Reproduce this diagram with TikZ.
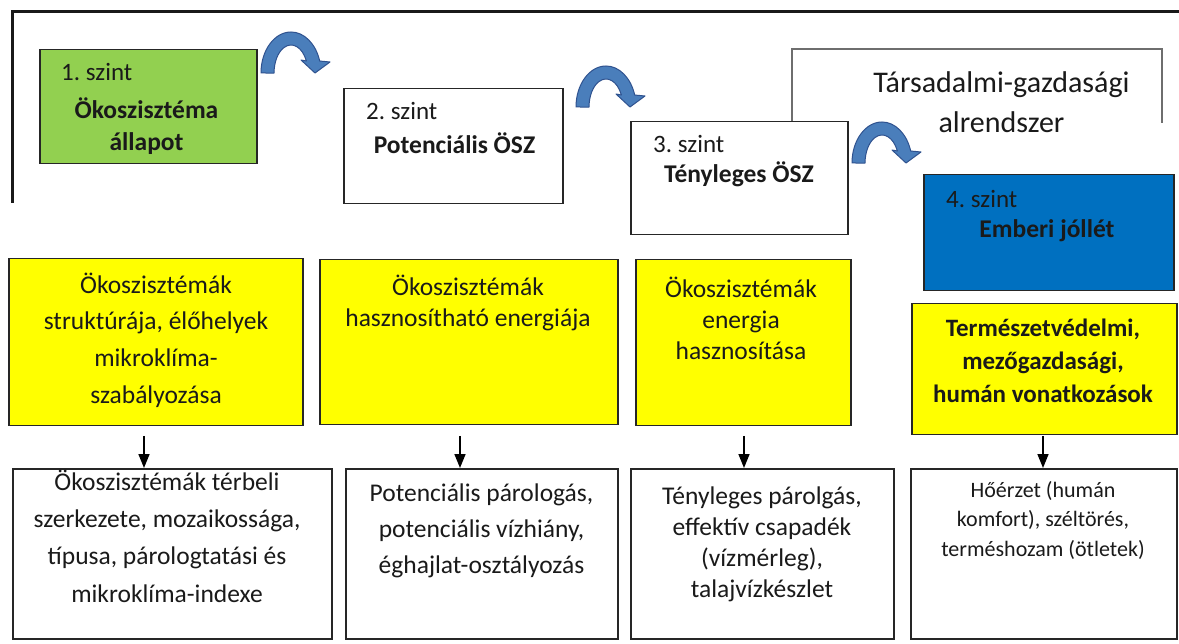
\documentclass[tikz,border=0pt]{standalone}
\usepackage{fontspec}
\setmainfont{Carlito}
\frenchspacing
\usetikzlibrary{arrows.meta}
\definecolor{grn}{HTML}{92D050}
\definecolor{blu}{HTML}{0070C0}
\definecolor{yel}{HTML}{FFFF00}
\definecolor{arrfill}{HTML}{4A7EBB}
\definecolor{arrdraw}{HTML}{2F528F}
\definecolor{txt}{HTML}{1A1A1A}
\definecolor{frm}{HTML}{6E6E6E}
\definecolor{brd}{HTML}{262626}
\begin{document}
\begin{tikzpicture}[x=1pt,y=-1pt,
  box/.style={draw=brd, line width=1.5pt, inner sep=0pt, anchor=north west},
  lbl/.style={inner sep=0pt, text=txt},
  one/.style={lbl, text height=0.75em, text depth=0.2em},
  dn/.style={-{Triangle[width=11pt,length=14pt]}, line width=1.6pt, black},
  bendarrow/.pic={
    \filldraw[yscale=-1, fill=arrfill, draw=arrdraw, line width=1pt, line join=round]
      (0,0) arc[start angle=180, end angle=17, x radius=30, y radius=41]
      -- (69,11) -- (54,0) -- (40,13) -- (45.4,12)
      arc[start angle=25.4, end angle=180, x radius=17, y radius=28] -- cycle;
  }]
\useasboundingbox (0,0) rectangle (1179,644);
\fill[white] (0,0) rectangle (1179,644);

% outer frame
\draw[line width=3pt, black!90, line join=miter] (12,203) -- (12,12) -- (1181,12);
% social-economic subsystem frame
\draw[frm, line width=1.3pt] (792,121) -- (792,49) -- (1162,49) -- (1162,123);
\node[lbl, align=center, font=\fontsize{30}{40}\selectfont] (soc) at (1001.5,102) {Társadalmi-gazdasági\\alrendszer};

% level boxes
\node[box, fill=grn, minimum width=217pt, minimum height=114pt] (b1) at (39,49) {};
\node[box, fill=white, minimum width=219pt, minimum height=115pt] (b2) at (343,88) {};
\node[box, fill=white, minimum width=217pt, minimum height=113pt] (b3) at (630,121) {};
\node[box, fill=blu, minimum width=250pt, minimum height=116pt] (b4) at (923,174) {};

\node[one, anchor=west, font=\fontsize{25}{30}\selectfont] (l1) at (61,78) {1. szint};
\node[lbl, align=center, font=\fontsize{25.5}{32}\selectfont\bfseries] (n1) at (146.5,126) {Ökoszisztéma\\állapot};
\node[one, anchor=west, font=\fontsize{25}{30}\selectfont] (l2) at (366,117) {2. szint};
\node[one, font=\fontsize{25.5}{30}\selectfont\bfseries] (n2) at (454.5,151) {Potenciális ÖSZ};
\node[one, anchor=west, font=\fontsize{25}{30}\selectfont] (l3) at (653,150) {3. szint};
\node[one, font=\fontsize{25.5}{30}\selectfont\bfseries] (n3) at (739,180) {Tényleges ÖSZ};
\node[one, anchor=west, font=\fontsize{25}{30}\selectfont] (l4) at (946,205) {4. szint};
\node[one, font=\fontsize{25.5}{30}\selectfont\bfseries] (n4) at (1047,235) {Emberi jóllét};

% bent arrows
\pic at (261,73) {bendarrow};
\pic at (576,107) {bendarrow};
\pic at (852,163) {bendarrow};

% yellow boxes
\node[box, fill=yel, minimum width=294pt, minimum height=167pt] (y1) at (8,258) {};
\node[box, fill=yel, minimum width=298pt, minimum height=165pt] (y2) at (319,259) {};
\node[box, fill=yel, minimum width=215pt, minimum height=166pt] (y3) at (635,259) {};
\node[box, fill=yel, minimum width=265pt, minimum height=131pt] (y4) at (911,303) {};

\node[lbl, align=center, font=\fontsize{25.5}{36.7}\selectfont] (ty1) at (156,340) {Ökoszisztémák\\struktúrája, élőhelyek\\mikroklíma-\\szabályozása};
\node[lbl, align=center, font=\fontsize{25.5}{31}\selectfont] (ty2) at (468,302.5) {Ökoszisztémák\\hasznosítható energiája};
\node[lbl, align=center, font=\fontsize{25.5}{31}\selectfont] (ty3) at (741,318) {Ökoszisztémák\\energia\\hasznosítása};
\node[lbl, align=center, font=\fontsize{25}{33}\selectfont\bfseries] (ty4) at (1043,361) {Természetvédelmi,\\mezőgazdasági,\\humán vonatkozások};

% bottom boxes
\node[box, fill=white, minimum width=319pt, minimum height=170pt] (c1) at (12,468) {};
\node[box, fill=white, minimum width=272pt, minimum height=170pt] (c2) at (345,468) {};
\node[box, fill=white, minimum width=263pt, minimum height=170pt] (c3) at (630,468) {};
\node[box, fill=white, minimum width=266pt, minimum height=170pt] (c4) at (910,468) {};

\node[lbl, align=center, font=\fontsize{25.5}{37.3}\selectfont] (tc1) at (167,536) {Ökoszisztémák térbeli\\szerkezete, mozaikossága,\\típusa, párologtatási és\\mikroklíma-indexe};
\node[lbl, align=center, font=\fontsize{25.5}{36}\selectfont] (tc2) at (481.5,531) {Potenciális párologás,\\potenciális vízhiány,\\éghajlat-osztályozás};
\node[lbl, align=center, font=\fontsize{25.5}{31}\selectfont] (tc3) at (762,544) {Tényleges párolgás,\\effektív csapadék\\(vízmérleg),\\talajvízkészlet};
\node[lbl, align=center, font=\fontsize{22}{29.5}\selectfont] (tc4) at (1043,520) {Hőérzet (humán\\komfort), széltörés,\\terméshozam (ötletek)};

% down arrows
\coordinate (a1) at (144,436);
\coordinate (a2) at (460,436);
\coordinate (a3) at (744,436);
\coordinate (a4) at (1043,436);
\draw[dn] (a1) -- (a1 |- c1.north);
\draw[dn] (a2) -- (a2 |- c2.north);
\draw[dn] (a3) -- (a3 |- c3.north);
\draw[dn] (a4) -- (a4 |- c4.north);
\end{tikzpicture}
\end{document}
